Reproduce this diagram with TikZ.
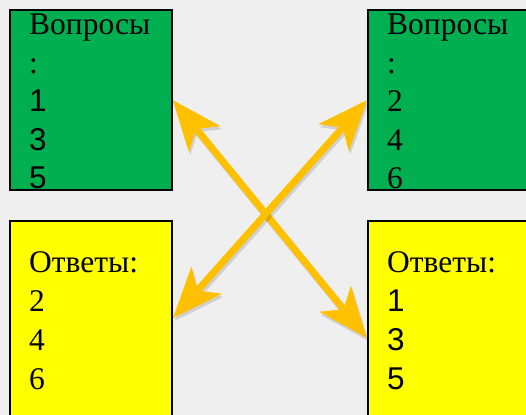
\documentclass[tikz,border=0pt]{standalone}
\usepackage{fontspec}
\setmainfont{Liberation Serif}
\setsansfont{Liberation Sans}
\usetikzlibrary{arrows.meta}
\definecolor{bgcol}{RGB}{239,239,239}
\definecolor{qgreen}{RGB}{0,176,80}
\definecolor{ayellow}{RGB}{255,255,0}
\definecolor{arrcol}{RGB}{255,192,0}
\tikzset{
  cardbox/.style={draw=black, line width=1.5bp, inner sep=0pt},
  cardtext/.style={anchor=base west, inner sep=0pt, font=\fontsize{31.5bp}{36bp}\selectfont},
  cardnum/.style={cardtext, font=\fontsize{31.5bp}{36bp}\sffamily},
  pairarrow/.style={draw=arrcol, fill=arrcol, line width=7bp,
    {Stealth[length=50bp,width=40bp,inset=13bp]}-{Stealth[length=50bp,width=40bp,inset=13bp]}},
  pairshadow/.style={pairarrow, draw=black, fill=black, opacity=.13},
}
\begin{document}
\begin{tikzpicture}[>=latex,line join=miter]
  \useasboundingbox (0bp,0bp) rectangle (526bp,415bp);
  \fill [bgcol] (0bp,0bp) rectangle (526bp,415bp);
  \clip (0bp,0bp) rectangle (526bp,415bp);
%%
  % Node: questions left
  \node [cardbox, fill=qgreen, minimum width=162bp, minimum height=180bp] (qleft) at (91bp,315bp) {};
  \node [cardtext] (qlefthead) at (29bp,380bp) {Вопросы};
  \node [cardtext] (qleftcolon) at (29bp,341.5bp) {:};
  \node [cardnum] (qleftone) at (29bp,303bp) {1};
  \node [cardnum] (qleftthree) at (29bp,264.5bp) {3};
  \node [cardnum] (qleftfive) at (29bp,226bp) {5};
  % Node: questions right
  \node [cardbox, fill=qgreen, minimum width=162bp, minimum height=180bp] (qright) at (449bp,315bp) {};
  \node [cardtext] (qrighthead) at (387bp,380bp) {Вопросы};
  \node [cardtext] (qrightcolon) at (387bp,341.5bp) {:};
  \node [cardtext] (qrighttwo) at (387bp,303bp) {2};
  \node [cardtext] (qrightfour) at (387bp,264.5bp) {4};
  \node [cardtext] (qrightsix) at (387bp,226bp) {6};
  % Node: answers left
  \node [cardbox, fill=ayellow, minimum width=162bp, minimum height=234bp] (aleft) at (91bp,77bp) {};
  \node [cardtext] (alefthead) at (29bp,142bp) {Ответы:};
  \node [cardtext] (alefttwo) at (29bp,103bp) {2};
  \node [cardtext] (aleftfour) at (29bp,64bp) {4};
  \node [cardtext] (aleftsix) at (29bp,26bp) {6};
  % Node: answers right
  \node [cardbox, fill=ayellow, minimum width=162bp, minimum height=234bp] (aright) at (449bp,77bp) {};
  \node [cardtext] (arighthead) at (387bp,142bp) {Ответы:};
  \node [cardnum] (arightone) at (387bp,103bp) {1};
  \node [cardnum] (arightthree) at (387bp,64bp) {3};
  \node [cardnum] (arightfive) at (387bp,26bp) {5};
  \coordinate (alefttip) at (173bp,97bp);
  \coordinate (arighttip) at (367bp,77bp);
  % Edge: questions left <-> answers right
  \draw [pairshadow] ([shift={(1.5bp,-3bp)}]qleft.east) -- ([shift={(1.5bp,-3bp)}]arighttip);
  \draw [pairarrow] (qleft.east) -- (arighttip);
  % Edge: questions right <-> answers left
  \draw [pairshadow] ([shift={(1.5bp,-3bp)}]qright.west) -- ([shift={(1.5bp,-3bp)}]alefttip);
  \draw [pairarrow] (qright.west) -- (alefttip);
%
\end{tikzpicture}
\end{document}
